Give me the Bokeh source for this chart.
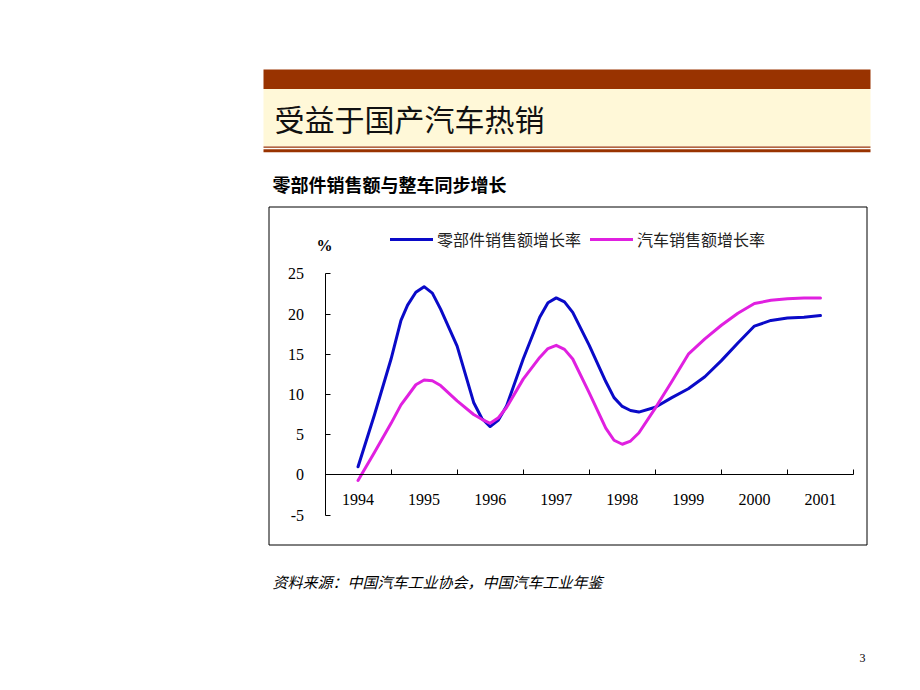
from bokeh.plotting import figure
from bokeh.models import Range1d, LinearAxis, FixedTicker, Legend, LegendItem
from bokeh.core.properties import value
from bokeh.embed import file_html
from bokeh.resources import INLINE

# ---------------- data ----------------
title_text = "受益于国产汽车热销"
subtitle_text = "零部件销售额与整车同步增长"
source_text = "资料来源：中国汽车工业协会，中国汽车工业年鉴"
page_number = "3"
unit_label = "%"
series_names = ["零部件销售额增长率", "汽车销售额增长率"]

year_ticks = [1994, 1995, 1996, 1997, 1998, 1999, 2000, 2001]
year_labels = ["1994", "1995", "1996", "1997", "1998", "1999", "2000", "2001"]
category_bounds = [1993.5, 1994.5, 1995.5, 1996.5, 1997.5, 1998.5, 1999.5, 2000.5, 2001.5]
y_ticks = [-5, 0, 5, 10, 15, 20, 25]
y_labels = ["-5", "0", "5", "10", "15", "20", "25"]

period = [1994.0, 1994.25, 1994.5, 1994.65, 1994.75, 1994.875,
          1995.0, 1995.125, 1995.25, 1995.5, 1995.75, 1995.875,
          1996.0, 1996.125, 1996.25, 1996.5, 1996.75, 1996.875,
          1997.0, 1997.125, 1997.25, 1997.5, 1997.75, 1997.875,
          1998.0, 1998.125, 1998.25, 1998.5, 1998.75,
          1999.0, 1999.25, 1999.5, 1999.75,
          2000.0, 2000.25, 2000.5, 2000.75,
          2001.0]
parts_growth = [1.0, 7.5, 14.4, 19.2, 21.1, 22.7,
                23.4, 22.6, 20.6, 16.0, 9.0, 7.0,
                6.0, 6.8, 8.6, 14.4, 19.6, 21.4,
                22.0, 21.5, 20.2, 16.1, 11.6, 9.6,
                8.5, 8.0, 7.8, 8.4, 9.6,
                10.7, 12.2, 14.2, 16.4,
                18.5, 19.2, 19.5, 19.6,
                19.8]
vehicle_growth = [-0.7, 2.8, 6.4, 8.7, 9.8, 11.2,
                  11.8, 11.7, 11.1, 9.2, 7.5, 6.9,
                  6.4, 7.1, 8.4, 11.9, 14.6, 15.7,
                  16.1, 15.6, 14.4, 10.2, 5.8, 4.3,
                  3.8, 4.2, 5.2, 8.3, 11.6,
                  15.0, 16.9, 18.6, 20.1,
                  21.3, 21.7, 21.9, 22.0,
                  22.0]

# ---------------- styles / layout ----------------
BLUE = "#0A0AC8"
PINK = "#E020E0"
BROWN = "#993300"
CREAM = "#FFF8D8"
CJK = "Noto Sans CJK SC"
SERIF = "Liberation Serif"

W, H = 904, 674
M = 0  # data coords of the main ranges == canvas pixel coords

# plot-area placement (canvas pixels)
XL, XR = 324.5, 853.0     # x of first / last category boundary
YT, YB = 273.3, 514.5     # y of 25 / -5
x_lo, x_hi = category_bounds[0], category_bounds[-1]
y_lo, y_hi = y_ticks[0], y_ticks[-1]
cw = (XR - XL) / (x_hi - x_lo)
vs = (YB - YT) / (y_hi - y_lo)

p = figure(width=W, height=H,
           x_range=Range1d(M, M + W), y_range=Range1d(M + H, M),
           x_axis_type=None, y_axis_type=None,
           output_backend="svg", toolbar_location=None,
           min_border=0, min_border_left=0, min_border_right=0,
           min_border_top=0, min_border_bottom=0,
           outline_line_color=None, background_fill_color="white",
           border_fill_color="white")

p.extra_x_ranges = {"cx": Range1d(x_lo + (M - XL) / cw, x_lo + (M + W - XL) / cw)}
p.extra_y_ranges = {"cy": Range1d(y_lo - (M + H - YB) / vs, y_hi + (YT - M) / vs)}

# ---------------- slide decorations ----------------
p.quad(left=[263, 263, 263, 263], right=[870, 870, 870, 870],
       top=[69, 88.5, 146.0, 148.7], bottom=[88.5, 145.5, 147.3, 151.7],
       fill_color=[BROWN, CREAM, BROWN, BROWN], line_color=None)

p.text(x=[274], y=[117], text=[title_text], text_font=value(CJK),
       text_font_size="30px", text_baseline="middle", text_align="left",
       text_color="#111111")
p.text(x=[272], y=[183], text=[subtitle_text], text_font=value(CJK),
       text_font_size="18px", text_font_style="bold", text_baseline="middle",
       text_align="left", text_color="black")

# chart box
p.quad(left=[268.5], right=[866.5], top=[206.5], bottom=[544.5],
       fill_color=None, line_color="black", line_width=1)

p.text(x=[272], y=[581], text=[source_text], text_font=value(CJK),
       text_font_size="15px", text_font_style="italic", text_baseline="middle",
       text_align="left", text_color="black")
p.text(x=[862], y=[657], text=[page_number], text_font=value(SERIF),
       text_font_size="12px", text_baseline="middle", text_align="center",
       text_color="black")

p.text(x=[324], y=[245], text=[unit_label], text_font=value(SERIF),
       text_font_size="16px", text_font_style="bold", text_baseline="middle",
       text_align="center", text_color="black")

# ---------------- series ----------------
r1 = p.line(period, parts_growth, x_range_name="cx", y_range_name="cy",
            line_color=BLUE, line_width=3, line_join="round", line_cap="round")
r2 = p.line(period, vehicle_growth, x_range_name="cx", y_range_name="cy",
            line_color=PINK, line_width=3, line_join="round", line_cap="round")

# ---------------- axes ----------------
yax = LinearAxis(x_range_name="cx", y_range_name="cy", fixed_location=x_lo,
                 ticker=FixedTicker(ticks=y_ticks, minor_ticks=[]),
                 bounds=(y_lo, y_hi),
                 major_label_overrides=dict(zip(y_ticks, y_labels)),
                 major_tick_in=5, major_tick_out=0,
                 minor_tick_in=0, minor_tick_out=0,
                 major_label_standoff=21,
                 major_label_text_font=SERIF, major_label_text_font_size="16px",
                 major_label_text_color="black",
                 axis_line_color="black", major_tick_line_color="black")
p.add_layout(yax, "left")

xax = LinearAxis(x_range_name="cx", y_range_name="cy", fixed_location=0,
                 ticker=FixedTicker(ticks=year_ticks, minor_ticks=category_bounds),
                 bounds=(x_lo, x_hi),
                 major_label_overrides=dict(zip(year_ticks, year_labels)),
                 major_tick_in=0, major_tick_out=0,
                 minor_tick_in=5, minor_tick_out=0,
                 major_label_standoff=19,
                 major_label_text_font=SERIF, major_label_text_font_size="16px",
                 major_label_text_color="black",
                 axis_line_color="black", minor_tick_line_color="black")
p.add_layout(xax, "below")

# ---------------- legend ----------------
legend = Legend(items=[LegendItem(label=series_names[0], renderers=[r1]),
                       LegendItem(label=series_names[1], renderers=[r2])],
                orientation="horizontal", location=(390, H - 251),
                glyph_width=43, glyph_height=20, label_height=20,
                label_standoff=4, spacing=9, padding=0, margin=0,
                border_line_color=None, background_fill_alpha=0,
                label_text_font=CJK, label_text_font_size="16px",
                label_text_color="#222222")
p.add_layout(legend)

open("out.html", "w").write(file_html(p, INLINE))
